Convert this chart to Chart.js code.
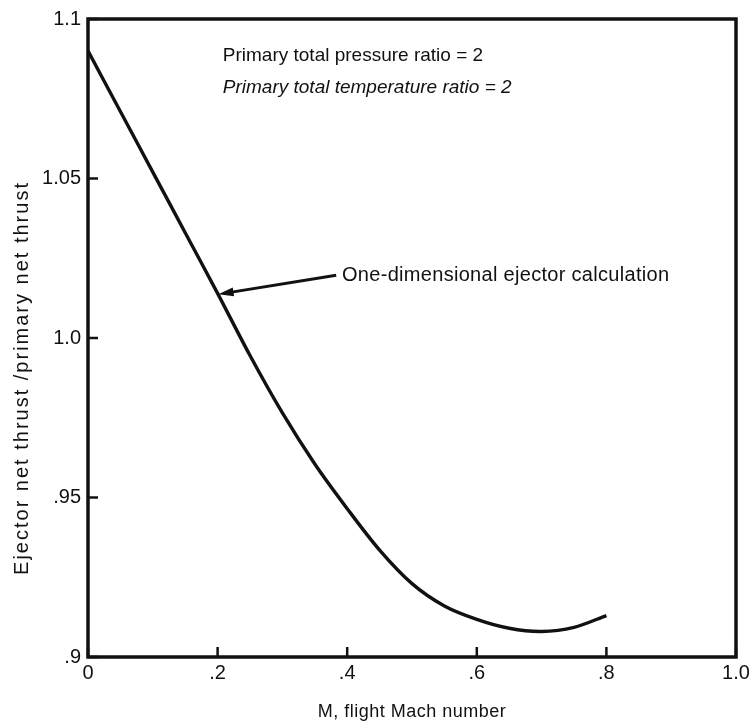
<!DOCTYPE html>
<html>
<head>
<meta charset="utf-8">
<script src="https://cdn.jsdelivr.net/npm/chart.js@4"></script>
<style>
  html, body { margin: 0; padding: 0; background: #fff; }
  #wrap { width: 756px; height: 723px; }
</style>
</head>
<body>
<div id="wrap"><canvas id="chart" width="756" height="723"></canvas></div>
<script>
// Ejector thrust ratio vs flight Mach number.
const machNumber = [0, 0.05, 0.1, 0.15, 0.2, 0.25, 0.3, 0.35, 0.4, 0.45, 0.5, 0.55, 0.6, 0.65, 0.7, 0.75, 0.8];
const thrustRatio = [1.0900, 1.0710, 1.0520, 1.0330, 1.0140, 0.9945, 0.9765, 0.9605, 0.9465, 0.9335, 0.9230, 0.9160, 0.9118, 0.9090, 0.9080, 0.9093, 0.9130];
const xTickValues = [0, 0.2, 0.4, 0.6, 0.8, 1.0];
const xTickLabels = ['0', '.2', '.4', '.6', '.8', '1.0'];
const yTickValues = [0.9, 0.95, 1.0, 1.05, 1.1];
const yTickLabels = ['.9', '.95', '1.0', '1.05', '1.1'];
const noteLines = ['Primary total pressure ratio = 2', 'Primary total temperature ratio = 2'];
const curveLabel = 'One-dimensional ejector calculation';
const xTitle = 'M, flight Mach number';
const yTitle = 'Ejector net thrust /primary net thrust';

const FONT = '"Liberation Sans", Arial, sans-serif';
const INK = '#111';

const labelFor = (vals, labels) => (v) => {
  const i = vals.findIndex((t) => Math.abs(t - v) < 1e-6);
  return i < 0 ? '' : labels[i];
};

// frame, inward ticks, titles, notes and the arrow
const decor = {
  id: 'decor',
  afterDraw(c) {
    const { ctx, chartArea: a, scales: { x, y } } = c;
    ctx.save();
    ctx.strokeStyle = INK; ctx.fillStyle = INK;
    ctx.lineWidth = 3.5;
    ctx.strokeRect(a.left, a.top, a.right - a.left, a.bottom - a.top);
    ctx.lineWidth = 2.5;
    for (const v of yTickValues) {
      const py = y.getPixelForValue(v);
      ctx.beginPath(); ctx.moveTo(a.left, py); ctx.lineTo(a.left + 10, py); ctx.stroke();
    }
    for (const v of xTickValues) {
      const px = x.getPixelForValue(v);
      ctx.beginPath(); ctx.moveTo(px, a.bottom); ctx.lineTo(px, a.bottom - 10); ctx.stroke();
    }

    ctx.textBaseline = 'middle'; ctx.textAlign = 'left';
    ctx.font = '19px ' + FONT;
    ctx.fillText(noteLines[0], x.getPixelForValue(0.208), y.getPixelForValue(1.0884));
    ctx.font = 'italic 19px ' + FONT;
    ctx.fillText(noteLines[1], x.getPixelForValue(0.208), y.getPixelForValue(1.0784));
    ctx.font = '20px ' + FONT;
    ctx.letterSpacing = '0.3px';
    ctx.fillText(curveLabel, x.getPixelForValue(0.392), y.getPixelForValue(1.0197));

    // axis titles
    ctx.textAlign = 'center';
    ctx.font = '18px ' + FONT;
    ctx.letterSpacing = '0.5px';
    ctx.fillText(xTitle, (a.left + a.right) / 2, 712);
    ctx.save();
    ctx.translate(22, 378); ctx.rotate(-Math.PI / 2);
    ctx.font = '20px ' + FONT;
    ctx.letterSpacing = '2px';
    ctx.fillText(yTitle, 0, 0);
    ctx.restore();
    ctx.letterSpacing = '0px';

    // arrow from label to curve
    const x0 = x.getPixelForValue(0.383), y0 = y.getPixelForValue(1.0197);
    const x1 = x.getPixelForValue(0.201), y1 = y.getPixelForValue(1.0137);
    const ang = Math.atan2(y1 - y0, x1 - x0);
    ctx.lineWidth = 3;
    ctx.beginPath(); ctx.moveTo(x0, y0); ctx.lineTo(x1 - 12 * Math.cos(ang), y1 - 12 * Math.sin(ang)); ctx.stroke();
    ctx.beginPath();
    ctx.moveTo(x1, y1);
    ctx.lineTo(x1 - 16 * Math.cos(ang - 0.28), y1 - 16 * Math.sin(ang - 0.28));
    ctx.lineTo(x1 - 16 * Math.cos(ang + 0.28), y1 - 16 * Math.sin(ang + 0.28));
    ctx.closePath(); ctx.fill();
    ctx.restore();
  }
};

new Chart(document.getElementById('chart').getContext('2d'), {
  type: 'line',
  data: {
    datasets: [{
      data: machNumber.map((m, i) => ({ x: m, y: thrustRatio[i] })),
      borderColor: INK, borderWidth: 3.4, pointRadius: 0,
      tension: 0.3, fill: false
    }]
  },
  options: {
    responsive: false, animation: false,
    layout: { padding: { top: 16, right: 20, left: 0, bottom: 0 } },
    plugins: { legend: { display: false }, tooltip: { enabled: false } },
    scales: {
      x: {
        type: 'linear', min: 0, max: 1.0,
        afterFit: (s) => { s.height = 66; },
        afterBuildTicks: (s) => { s.ticks = xTickValues.map((v) => ({ value: v })); },
        grid: { display: false, drawTicks: false }, border: { display: false },
        ticks: { padding: 4, color: INK, font: { family: FONT, size: 20 }, maxRotation: 0, callback: labelFor(xTickValues, xTickLabels) }
      },
      y: {
        type: 'linear', min: 0.9, max: 1.1,
        afterFit: (s) => { s.width = 88; },
        afterBuildTicks: (s) => { s.ticks = yTickValues.map((v) => ({ value: v })); },
        grid: { display: false, drawTicks: false }, border: { display: false },
        ticks: { padding: 7, color: INK, font: { family: FONT, size: 20 }, callback: labelFor(yTickValues, yTickLabels) }
      }
    }
  },
  plugins: [decor]
});
</script>
</body>
</html>
